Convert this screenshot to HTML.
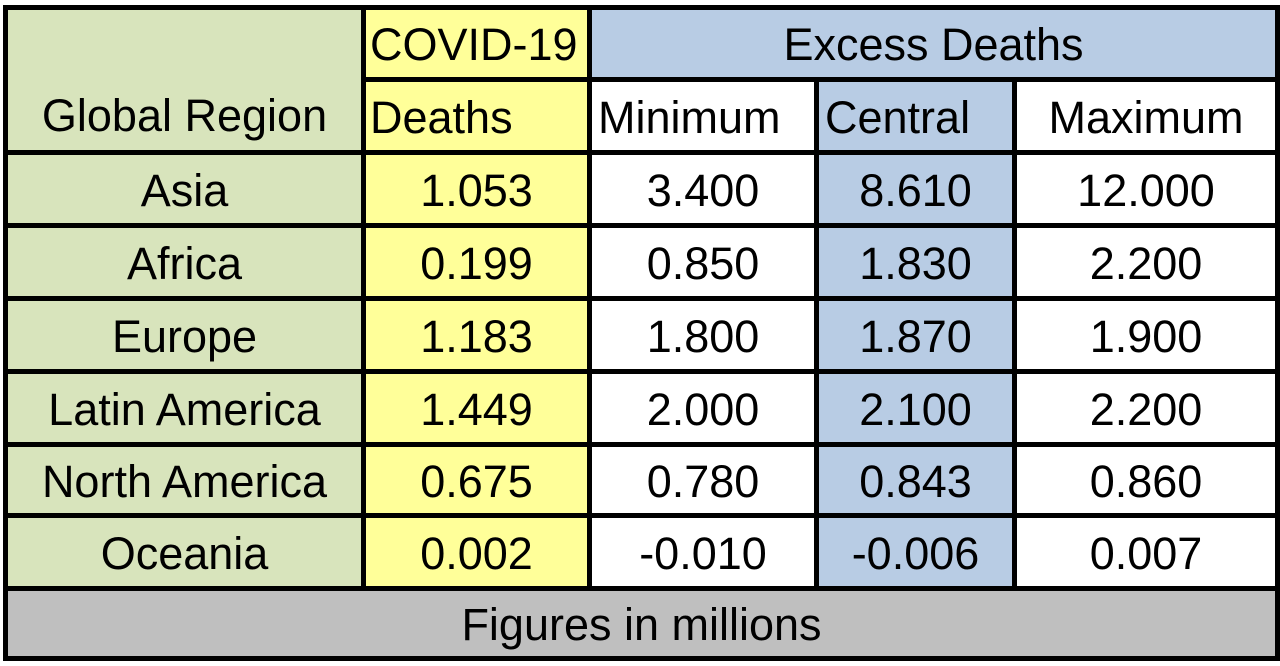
<!DOCTYPE html>
<html><head><meta charset="utf-8"><style>
body{margin:0;width:1280px;height:666px;background:#fff;position:relative;overflow:hidden;font-family:"Liberation Sans",sans-serif;}
#t{position:absolute;left:3px;top:5px;width:1277px;height:656px;background:#000;}
.c{position:absolute;display:flex;align-items:center;justify-content:center;font-size:45px;color:#000;box-sizing:border-box;white-space:nowrap;padding-top:3px;}
.g{background:#d8e4bc}.y{background:#ffff99}.b{background:#b8cce4}.w{background:#fff}.gr{background:#bfbfbf}
.l{justify-content:flex-start;padding-left:6px}
</style></head><body>
<div id="t"></div>
<div class="c g" style="left:8px;top:10px;width:353px;height:140px;align-items:flex-end;padding-bottom:8px">Global Region</div>
<div class="c y l" style="left:366px;top:10px;width:221px;height:67px;padding-left:4px">COVID-19</div>
<div class="c b" style="left:592px;top:10px;width:683px;height:67px">Excess Deaths</div>
<div class="c y l" style="left:366px;top:82px;width:221px;height:68px;padding-left:4px">Deaths</div>
<div class="c w l" style="left:592px;top:82px;width:222px;height:68px;padding-left:6px">Minimum</div>
<div class="c b l" style="left:819px;top:82px;width:193px;height:68px;padding-left:6px">Central</div>
<div class="c w" style="left:1017px;top:82px;width:258px;height:68px">Maximum</div>
<div id="rows"></div>
<div class="c gr" style="left:8px;top:591px;width:1267px;height:65px">Figures in millions</div>
<script>
var d=[["Asia","1.053","3.400","8.610","12.000"],["Africa","0.199","0.850","1.830","2.200"],["Europe","1.183","1.800","1.870","1.900"],["Latin America","1.449","2.000","2.100","2.200"],["North America","0.675","0.780","0.843","0.860"],["Oceania","0.002","-0.010","-0.006","0.007"]];
var tops=[155,228,301,374,447,518],bots=[223,296,369,442,513,586];
var cols=[[8,361,"g"],[366,587,"y"],[592,814,"w"],[819,1012,"b"],[1017,1275,"w"]];
var h="";
for(var i=0;i<6;i++)for(var j=0;j<5;j++){h+='<div class="c '+cols[j][2]+'" style="left:'+cols[j][0]+'px;top:'+tops[i]+'px;width:'+(cols[j][1]-cols[j][0])+'px;height:'+(bots[i]-tops[i])+'px">'+d[i][j]+'</div>';}
document.getElementById("rows").innerHTML=h;
</script>
</body></html>
